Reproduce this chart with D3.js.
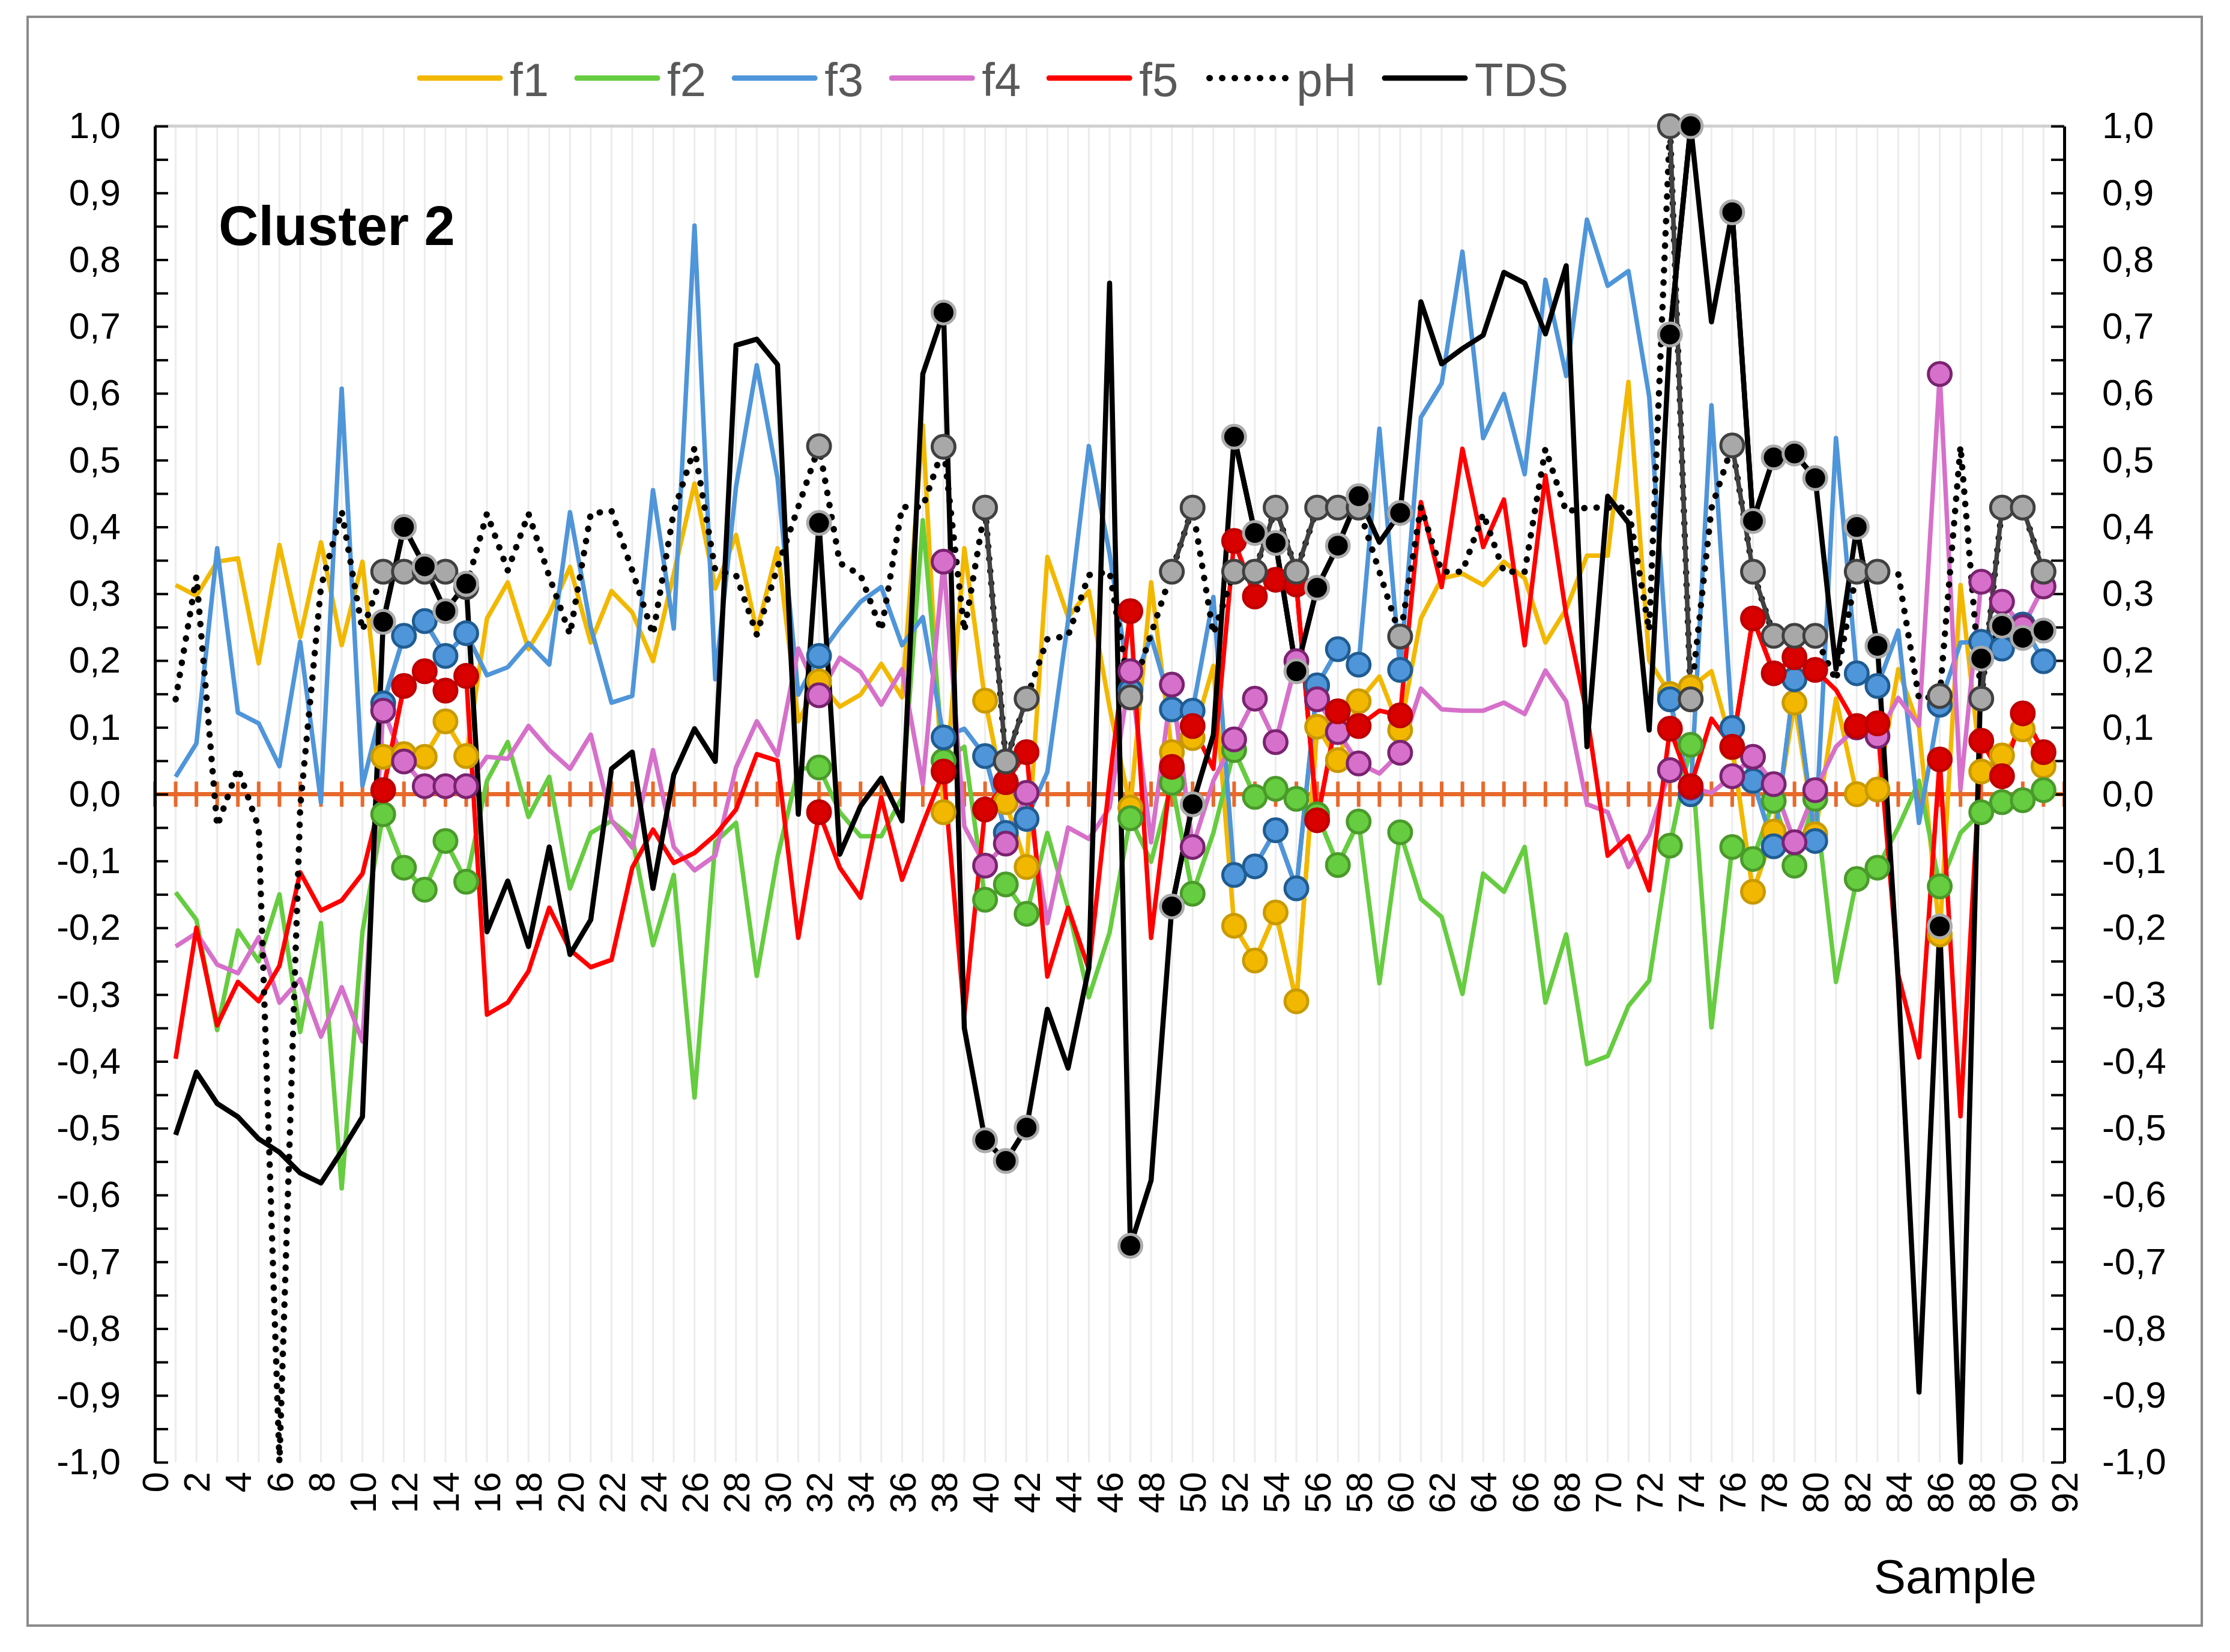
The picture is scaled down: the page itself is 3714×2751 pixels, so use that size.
<!DOCTYPE html>
<html>
<head>
<meta charset="utf-8">
<script src="https://cdn.jsdelivr.net/npm/d3@7"></script>
<style>
  body { margin: 0; background: #fff; }
  text { font-family: "Liberation Sans", Arial, sans-serif; }
</style>
</head>
<body>
<div id="graph"></div>
<script>
// values, samples 1..91
let f1 = [0.313, 0.297, 0.348, 0.353, 0.196, 0.373, 0.235, 0.377, 0.223, 0.348,
  0.056, 0.06, 0.056, 0.109, 0.057, 0.263, 0.317, 0.217, 0.27, 0.34,
  0.227, 0.304, 0.272, 0.199, 0.33, 0.465, 0.308, 0.388, 0.243, 0.368,
  0.109, 0.169, 0.131, 0.149, 0.195, 0.145, 0.552, -0.027, 0.368, 0.14,
  -0.012, -0.109, 0.355, 0.265, 0.304, 0.13, -0.02, 0.317, 0.063, 0.084,
  0.192, -0.197, -0.249, -0.177, -0.31, 0.101, 0.051, 0.139, 0.176, 0.096,
  0.263, 0.323, 0.33, 0.313, 0.348, 0.323, 0.227, 0.277, 0.357, 0.357,
  0.617, 0.2, 0.15, 0.16, 0.184, 0.07, -0.146, -0.056, 0.137, -0.06,
  0.143, 0.0, 0.007, 0.187, 0.1, -0.21, 0.313, 0.034, 0.058, 0.097, 0.042];
let f2 = [-0.147, -0.188, -0.353, -0.204, -0.25, -0.15, -0.356, -0.193, -0.59, -0.206,
  -0.03, -0.11, -0.143, -0.07, -0.131, 0.02, 0.078, -0.034, 0.026, -0.141,
  -0.058, -0.04, -0.065, -0.226, -0.121, -0.454, -0.072, -0.043, -0.272, -0.094,
  0.038, 0.04, -0.027, -0.063, -0.063, -0.005, 0.41, 0.05, 0.071, -0.158,
  -0.135, -0.179, -0.058, -0.17, -0.304, -0.207, -0.036, -0.101, 0.017, -0.149,
  -0.058, 0.066, -0.004, 0.008, -0.007, -0.03, -0.106, -0.041, -0.283, -0.057,
  -0.157, -0.184, -0.299, -0.119, -0.146, -0.079, -0.312, -0.21, -0.404, -0.392,
  -0.317, -0.279, -0.077, 0.074, -0.349, -0.079, -0.097, -0.01, -0.107, -0.007,
  -0.281, -0.127, -0.11, -0.05, 0.02, -0.138, -0.058, -0.027, -0.012, -0.009, 0.006];
let f3 = [0.026, 0.076, 0.368, 0.122, 0.106, 0.042, 0.228, -0.012, 0.607, 0.013,
  0.136, 0.237, 0.259, 0.207, 0.241, 0.178, 0.19, 0.226, 0.194, 0.422,
  0.25, 0.137, 0.147, 0.455, 0.248, 0.851, 0.172, 0.46, 0.642, 0.473,
  0.149, 0.207, 0.25, 0.288, 0.31, 0.223, 0.265, 0.085, 0.098, 0.057,
  -0.058, -0.037, 0.033, 0.26, 0.521, 0.36, 0.155, 0.236, 0.127, 0.125,
  0.295, -0.121, -0.108, -0.054, -0.141, 0.163, 0.217, 0.194, 0.547, 0.186,
  0.564, 0.615, 0.812, 0.533, 0.599, 0.479, 0.77, 0.626, 0.86, 0.761,
  0.783, 0.595, 0.142, 0.0, 0.582, 0.099, 0.02, -0.078, 0.172, -0.07,
  0.533, 0.181, 0.162, 0.245, -0.043, 0.134, 0.227, 0.228, 0.218, 0.254, 0.199];
let f4 = [-0.228, -0.208, -0.255, -0.268, -0.214, -0.312, -0.277, -0.363, -0.289, -0.37,
  0.125, 0.049, 0.012, 0.012, 0.012, 0.056, 0.053, 0.102, 0.066, 0.038,
  0.089, -0.039, -0.08, 0.066, -0.079, -0.114, -0.092, 0.04, 0.109, 0.058,
  0.218, 0.148, 0.204, 0.183, 0.134, 0.187, 0.015, 0.348, -0.048, -0.107,
  -0.074, 0.002, -0.193, -0.05, -0.067, -0.02, 0.184, -0.072, 0.164, -0.079,
  0.02, 0.082, 0.143, 0.078, 0.199, 0.142, 0.093, 0.046, 0.031, 0.062,
  0.158, 0.127, 0.125, 0.125, 0.137, 0.12, 0.185, 0.139, -0.015, -0.027,
  -0.109, -0.061, 0.036, 0.01, 0.002, 0.027, 0.056, 0.015, -0.072, 0.006,
  0.071, 0.1, 0.087, 0.144, 0.103, 0.629, 0.008, 0.318, 0.288, 0.25, 0.311];
let f5 = [-0.396, -0.2, -0.346, -0.281, -0.31, -0.257, -0.117, -0.174, -0.159, -0.119,
  0.006, 0.162, 0.184, 0.155, 0.177, -0.33, -0.312, -0.265, -0.17, -0.233,
  -0.259, -0.248, -0.11, -0.053, -0.103, -0.088, -0.061, -0.023, 0.06, 0.05,
  -0.215, -0.027, -0.11, -0.155, -0.005, -0.128, -0.045, 0.034, -0.33, -0.023,
  0.018, 0.063, -0.273, -0.17, -0.262, 0.02, 0.274, -0.215, 0.041, 0.102,
  0.038, 0.379, 0.296, 0.321, 0.314, -0.039, 0.124, 0.102, 0.125, 0.118,
  0.437, 0.31, 0.517, 0.37, 0.441, 0.223, 0.477, 0.268, 0.12, -0.092,
  -0.063, -0.144, 0.098, 0.012, 0.113, 0.071, 0.263, 0.181, 0.205, 0.186,
  0.156, 0.102, 0.106, -0.27, -0.394, 0.052, -0.482, 0.08, 0.027, 0.121, 0.063];
let pH = [0.142, 0.326, -0.048, 0.039, -0.05, -1.0, -0.02, 0.31, 0.424, 0.245,
  0.333, 0.333, 0.333, 0.333, 0.31, 0.42, 0.335, 0.42, 0.326, 0.239,
  0.42, 0.424, 0.335, 0.239, 0.423, 0.518, 0.335, 0.328, 0.239, 0.34,
  0.43, 0.521, 0.346, 0.328, 0.245, 0.43, 0.43, 0.52, 0.244, 0.429,
  0.049, 0.143, 0.232, 0.237, 0.328, 0.333, 0.145, 0.24, 0.333, 0.429,
  0.24, 0.333, 0.333, 0.429, 0.333, 0.429, 0.429, 0.429, 0.333, 0.236,
  0.43, 0.333, 0.333, 0.42, 0.333, 0.333, 0.517, 0.423, 0.429, 0.429,
  0.429, 0.245, 1.0, 0.142, 0.428, 0.522, 0.333, 0.237, 0.237, 0.237,
  0.17, 0.333, 0.333, 0.33, 0.143, 0.147, 0.521, 0.143, 0.429, 0.429, 0.333];
let TDS = [-0.51, -0.416, -0.463, -0.483, -0.516, -0.536, -0.567, -0.582, -0.534, -0.483,
  0.258, 0.40, 0.341, 0.274, 0.315, -0.206, -0.13, -0.228, -0.079, -0.24,
  -0.188, 0.038, 0.063, -0.141, 0.029, 0.098, 0.049, 0.672, 0.681, 0.643,
  -0.03, 0.406, -0.09, -0.018, 0.024, -0.04, 0.629, 0.721, -0.35, -0.518,
  -0.549, -0.499, -0.322, -0.41, -0.26, 0.765, -0.676, -0.578, -0.168, -0.015,
  0.089, 0.535, 0.391, 0.376, 0.184, 0.309, 0.372, 0.446, 0.377, 0.421,
  0.737, 0.644, 0.667, 0.687, 0.781, 0.765, 0.689, 0.791, 0.071, 0.446,
  0.406, 0.096, 0.688, 1.0, 0.707, 0.871, 0.409, 0.504, 0.51, 0.473,
  0.187, 0.40, 0.222, -0.28, -0.895, -0.198, -1.0, 0.203, 0.252, 0.234, 0.245];
// samples shown with markers
let marked = [11, 12, 13, 14, 15, 32, 38, 40, 41, 42, 47, 49, 50, 52, 53, 54, 55, 56, 57, 58,
  60, 73, 74, 76, 77, 78, 79, 80, 82, 83, 86, 88, 89, 90, 91];
let names = ["f1", "f2", "f3", "f4", "f5", "pH", "TDS"];
let xTicks = d3.range(0, 93, 2);

let series = [
  {name: names[0], values: f1, color: "#F2B800", mFill: "#F2B800", mStroke: "#C99A00", subLine: "#F2B800"},
  {name: names[1], values: f2, color: "#66CC40", mFill: "#66CC40", mStroke: "#4A9A2A", subLine: "#66CC40"},
  {name: names[2], values: f3, color: "#4F95D9", mFill: "#4F95D9", mStroke: "#1F5C92", subLine: "#4F95D9"},
  {name: names[3], values: f4, color: "#D670CA", mFill: "#D670CA", mStroke: "#7A2370", subLine: "#D670CA"},
  {name: names[4], values: f5, color: "#FF0000", mFill: "#D90000", mStroke: "#C00000", subLine: "#FF0000"},
  {name: names[5], values: pH, color: "#000000", mFill: "#A8A8A8", mStroke: "#404040", subLine: "#404040", dotted: true},
  {name: names[6], values: TDS, color: "#000000", mFill: "#000000", mStroke: "#ABABAB", subLine: "#000000"}
];

let W = 3714, H = 2751;
let plot = {left: 258, right: 3438, top: 210, bottom: 2435};

let svg = d3.select("#graph").append("svg")
  .attr("width", W).attr("height", H);

svg.append("rect").attr("x", 46).attr("y", 28)
  .attr("width", 3621).attr("height", 2679)
  .attr("fill", "#fff").attr("stroke", "#8a8a8a").attr("stroke-width", 4);

let x = d3.scaleLinear().domain([0, 92]).range([plot.left, plot.right]);
let y = d3.scaleLinear().domain([-1, 1]).range([plot.bottom, plot.top]);

// vertical gridlines
svg.append("g").selectAll("line").data(d3.range(1, 92)).join("line")
  .attr("x1", d => x(d)).attr("x2", d => x(d))
  .attr("y1", plot.top).attr("y2", plot.bottom)
  .attr("stroke", "#ececec").attr("stroke-width", 3);
svg.append("line").attr("x1", plot.left).attr("x2", plot.right)
  .attr("y1", plot.top).attr("y2", plot.top)
  .attr("stroke", "#d0d0d0").attr("stroke-width", 5);

// zero line with cross ticks
let y0 = y(0);
svg.append("line").attr("x1", plot.left).attr("x2", plot.right)
  .attr("y1", y0).attr("y2", y0)
  .attr("stroke", "#E8692A").attr("stroke-width", 7);
svg.append("g").selectAll("line").data(d3.range(0, 93)).join("line")
  .attr("x1", d => x(d)).attr("x2", d => x(d))
  .attr("y1", y0 - 21).attr("y2", y0 + 21)
  .attr("stroke", "#E8692A").attr("stroke-width", 6);

// axes
let loc = d3.formatLocale({decimal: ",", thousands: ".", grouping: [3], currency: ["", ""], minus: "-"});
let fmt = loc.format(".1f");
let yTickVals = d3.range(-20, 21).map(i => i / 20);
let yFmt = d => (Math.round(d * 20) % 2 === 0 ? fmt(d) : "");

let yLeft = svg.append("g").attr("transform", "translate(" + plot.left + ",0)")
  .call(d3.axisLeft(y).tickValues(yTickVals).tickFormat(yFmt)
    .tickSizeInner(-22).tickSizeOuter(0).tickPadding(57));
let yRight = svg.append("g").attr("transform", "translate(" + plot.right + ",0)")
  .call(d3.axisRight(y).tickValues(yTickVals).tickFormat(yFmt)
    .tickSizeInner(-22).tickSizeOuter(0).tickPadding(63));
[yLeft, yRight].forEach(g => {
  g.select(".domain").attr("stroke", "#000").attr("stroke-width", 5);
  g.selectAll(".tick line").attr("stroke", "#000").attr("stroke-width", 4);
  g.selectAll("text").attr("font-size", 62).attr("fill", "#000")
    .attr("font-family", "Liberation Sans, Arial, sans-serif");
});

let xAxis = svg.append("g").attr("transform", "translate(0," + plot.bottom + ")")
  .call(d3.axisBottom(x).tickValues(xTicks).tickSize(0).tickFormat(d => d));
xAxis.select(".domain").remove();
xAxis.selectAll("text")
  .attr("font-size", 62).attr("fill", "#000")
  .attr("font-family", "Liberation Sans, Arial, sans-serif")
  .attr("transform", "rotate(-90)")
  .attr("text-anchor", "end")
  .attr("x", -16).attr("y", 0).attr("dy", "0.35em");

// main lines
let line = d3.line().x((d, i) => x(i + 1)).y(d => y(d));
series.forEach(s => {
  let p = svg.append("path")
    .attr("d", line(s.values))
    .attr("fill", "none")
    .attr("stroke", s.color)
    .attr("stroke-linejoin", "round");
  if (s.dotted) {
    p.attr("stroke-width", 10.5).attr("stroke-dasharray", "0.5 20").attr("stroke-linecap", "round");
  } else {
    p.attr("stroke-width", s.name === "TDS" ? 8.5 : 7.5);
  }
});

// marked subset: lines + markers
let isMarked = i => marked.indexOf(i + 1) >= 0;
let subLine = d3.line().defined((d, i) => isMarked(i)).x((d, i) => x(i + 1)).y(d => y(d));
series.forEach(s => {
  svg.append("path")
    .attr("d", subLine(s.values))
    .attr("fill", "none")
    .attr("stroke", s.subLine)
    .attr("stroke-width", s.name === "TDS" ? 8.5 : 7.5)
    .attr("stroke-linejoin", "round");
});
series.forEach(s => {
  svg.append("g").selectAll("circle")
    .data(marked)
    .join("circle")
    .attr("cx", d => x(d))
    .attr("cy", d => y(s.values[d - 1]))
    .attr("r", 19)
    .attr("fill", s.mFill)
    .attr("stroke", s.mStroke)
    .attr("stroke-width", 5);
});

// legend
let lg = svg.append("g");
let lx = 699;
series.forEach(s => {
  let l = lg.append("line").attr("x1", lx).attr("x2", lx + 134)
    .attr("y1", 130).attr("y2", 130)
    .attr("stroke", s.color).attr("stroke-linecap", "round");
  if (s.dotted) l.attr("stroke-width", 10.5).attr("stroke-dasharray", "0.5 20.5").attr("x1", lx + 5);
  else l.attr("stroke-width", 9);
  let t = lg.append("text").attr("x", lx + 150).attr("y", 160)
    .attr("font-size", 78).attr("fill", "#595959").text(s.name);
  lx = lx + 150 + t.node().getComputedTextLength() + 47;
});

// labels
svg.append("text").attr("x", 364).attr("y", 408)
  .attr("font-size", 92).attr("font-weight", "bold").attr("fill", "#000")
  .text("Cluster 2");
svg.append("text").attr("x", 3392).attr("y", 2653)
  .attr("text-anchor", "end").attr("font-size", 80).attr("fill", "#000")
  .text("Sample");
</script>
</body>
</html>
